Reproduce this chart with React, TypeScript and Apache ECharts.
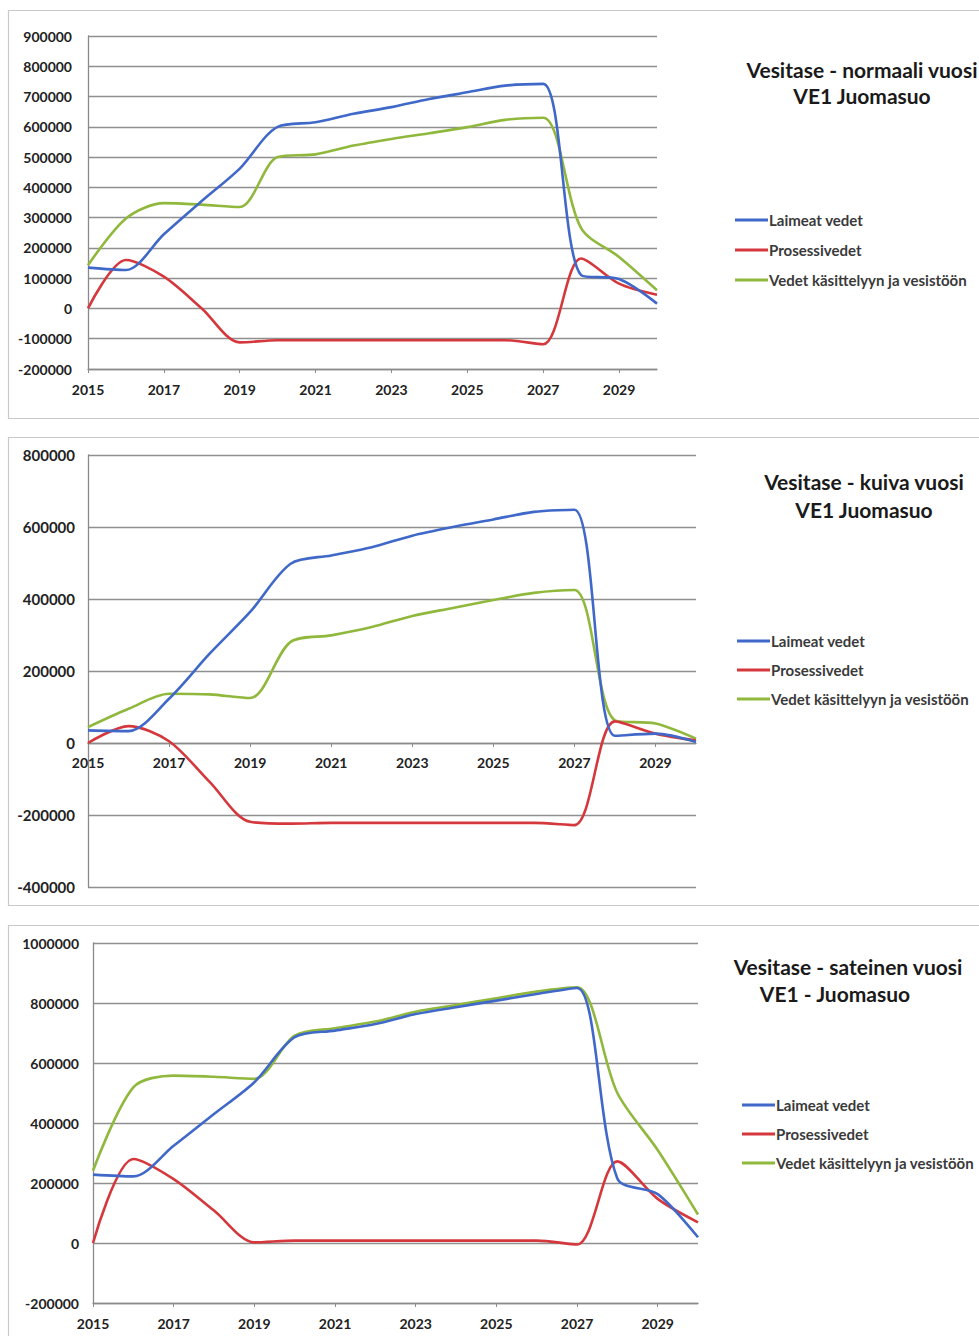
import React, { useEffect, useRef } from "react";
import * as echarts from "echarts";

const years = ["2015","2016","2017","2018","2019","2020","2021","2022","2023","2024","2025","2026","2027","2028","2029","2030"];
const seriesNames = ["Laimeat vedet", "Prosessivedet", "Vedet käsittelyyn ja vesistöön"];

// Normaali vuosi
const normalBlue = [135000,127000,245000,355000,462000,600000,615000,643000,665000,692000,714000,736000,742000,110000,97000,16000];
const normalRed = [0,160000,105000,0,-112000,-105000,-105000,-105000,-105000,-105000,-105000,-105000,-118000,165000,82000,45000];
const normalGreen = [143000,297000,348000,343000,335000,500000,509000,538000,560000,579000,599000,623000,630000,265000,170000,60000];

// Kuiva vuosi
const dryBlue = [35000,33000,123000,248000,364000,498000,521000,544000,576000,600000,621000,642000,648000,20000,26000,3000];
const dryRed = [0,47000,5000,-108000,-219000,-224000,-222000,-222000,-222000,-222000,-222000,-222000,-228000,60000,26000,7000];
const dryGreen = [44000,95000,137000,135000,125000,281000,299000,322000,353000,375000,397000,417000,425000,63000,54000,12000];

// Sateinen vuosi
const wetBlue = [228000,222000,324000,430000,536000,686000,708000,730000,763000,786000,808000,830000,850000,215000,163000,19000];
const wetRed = [0,280000,213000,108000,2000,8000,8000,8000,8000,8000,8000,8000,-5000,272000,147000,69000];
const wetGreen = [241000,519000,558000,554000,547000,691000,716000,738000,771000,793000,816000,838000,852000,500000,310000,95000];

const colors = ["#3f68c8", "#d5383c", "#8fb83c"];
const FONT = "Lato";

export default function App() {
  const ref = useRef<HTMLDivElement>(null);
  useEffect(() => {
    if (!ref.current) return;
    const chart = echarts.init(ref.current, null, { renderer: "svg" });

    const grids = [
      { left: 88, top: 36, width: 569, height: 333 },
      { left: 88, top: 455, width: 608, height: 432 },
      { left: 93, top: 943, width: 605, height: 360 },
    ];
    const yCfg = [
      { min: -200000, max: 900000, interval: 100000, fs: 14, margin: 16 },
      { min: -400000, max: 800000, interval: 200000, fs: 15, margin: 13 },
      { min: -200000, max: 1000000, interval: 200000, fs: 14, margin: 14 },
    ];
    // chart 2: horizontal axis crosses at zero (432 px * 400000 / 1200000)
    const xOffset = [0, -144, 0];
    const xMargin = [13, 12, 13];
    const datasets = [
      [normalBlue, normalRed, normalGreen],
      [dryBlue, dryRed, dryGreen],
      [wetBlue, wetRed, wetGreen],
    ];

    const xAxis = grids.map((_, i) => ({
      type: "category",
      gridIndex: i,
      data: years,
      boundaryGap: false,
      offset: xOffset[i],
      axisLine: { onZero: false, lineStyle: { color: "#8a8a8a", width: 1.3 } },
      axisTick: { show: true, interval: 1, length: 4, lineStyle: { color: "#8a8a8a" } },
      axisLabel: {
        interval: 1,
        margin: xMargin[i],
        color: "#222",
        fontFamily: FONT,
        fontWeight: "bold",
        fontSize: 14,
      },
      splitLine: { show: false },
    }));

    const yAxis = grids.map((_, i) => ({
      type: "value",
      gridIndex: i,
      min: yCfg[i].min,
      max: yCfg[i].max,
      interval: yCfg[i].interval,
      axisLine: { show: true, onZero: false, lineStyle: { color: "#8a8a8a", width: 1.3 } },
      axisTick: { show: false },
      axisLabel: {
        margin: yCfg[i].margin,
        color: "#222",
        fontFamily: FONT,
        fontWeight: "bold",
        fontSize: yCfg[i].fs,
        formatter: (v: number) => String(v),
      },
      splitLine: { show: true, lineStyle: { color: "#8f8f8f", width: 1.3 } },
    }));

    const series: any[] = [];
    datasets.forEach((set, gi) => {
      set.forEach((vals, si) => {
        series.push({
          type: "line",
          name: seriesNames[si],
          xAxisIndex: gi,
          yAxisIndex: gi,
          data: vals,
          smooth: 0.3,
          symbol: "none",
          lineStyle: { color: colors[si], width: 2.6 },
          itemStyle: { color: colors[si] },
          z: si === 1 ? 3 : si === 0 ? 4 : 2,
        });
      });
    });

    const legendPos = [
      { left: 735, top: 211, gap: 12 },
      { left: 737, top: 632, gap: 11 },
      { left: 742, top: 1096, gap: 11 },
    ];
    const legend = legendPos.map((p) => ({
      orient: "vertical",
      left: p.left,
      top: p.top,
      itemWidth: 33,
      itemHeight: 3,
      itemGap: p.gap,
      padding: 0,
      icon: "rect",
      selectedMode: false,
      data: seriesNames,
      textStyle: {
        color: "#3a3a3a",
        fontFamily: FONT,
        fontWeight: "bold",
        fontSize: 15,
        lineHeight: 18,
        padding: [0, 0, 0, -4],
      },
    }));

    const titleLines = [
      { text: "Vesitase - normaali vuosi", x: 862, y: 59 },
      { text: "VE1 Juomasuo", x: 862, y: 85 },
      { text: "Vesitase - kuiva vuosi", x: 864, y: 471 },
      { text: "VE1 Juomasuo", x: 864, y: 499 },
      { text: "Vesitase - sateinen vuosi", x: 848, y: 956 },
      { text: "VE1 - Juomasuo", x: 835, y: 983 },
    ];
    const title = titleLines.map((t) => ({
      text: t.text,
      left: t.x,
      top: t.y,
      textAlign: "center",
      padding: 0,
      textStyle: { fontFamily: FONT, fontWeight: "bold", fontSize: 21, color: "#1a1a1a" },
    }));

    const frames = [
      { y: 10.5, h: 408 },
      { y: 437.5, h: 468 },
      { y: 925.5, h: 420 },
    ];
    const graphic = frames.map((f) => ({
      type: "rect",
      silent: true,
      z: -10,
      shape: { x: 8.5, y: f.y, width: 990, height: f.h },
      style: { fill: "#fff", stroke: "#c9c9c9", lineWidth: 1.2 },
    }));

    chart.setOption({
      animation: false,
      backgroundColor: "#fff",
      grid: grids,
      xAxis,
      yAxis,
      series,
      legend,
      title,
      graphic,
    });
    return () => chart.dispose();
  }, []);

  return (
    <div
      ref={ref}
      style={{ position: "absolute", left: 0, top: 0, width: 979, height: 1336 }}
    />
  );
}
